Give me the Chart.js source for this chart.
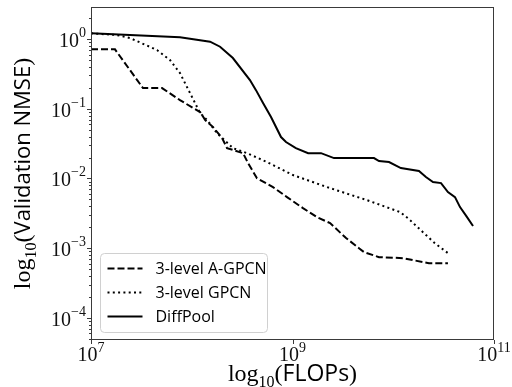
<!DOCTYPE html>
<html>
<head>
<meta charset="utf-8">
<script src="https://cdn.jsdelivr.net/npm/chart.js@4.4.1/dist/chart.umd.min.js"></script>
<style>
    html, body { margin: 0; padding: 0; background: #fff; }
</style>
</head>
<body>
<canvas id="nmseChart" width="512" height="387"></canvas>
<script>
// series values (FLOPs, validation NMSE)
const agpcnFlops = [1.0e7, 1.73e7, 3.28e7, 5.07e7, 7.64e7, 1.21e8, 1.36e8, 1.63e8, 2.00e8, 2.24e8, 3.23e8, 3.62e8, 4.44e8, 6.40e8, 8.82e8, 1.27e9, 1.75e9, 2.36e9, 3.40e9, 4.57e9, 5.13e9, 7.22e9, 1.25e10, 1.57e10, 2.26e10, 3.49e10];
const agpcnNmse = [0.711, 0.711, 0.198, 0.198, 0.133, 0.0897, 0.0689, 0.0546, 0.0380, 0.0273, 0.0231, 0.0166, 0.0101, 0.00753, 0.00541, 0.00376, 0.00279, 0.00229, 0.00140, 0.00100, 0.000879, 0.000745, 0.000721, 0.000675, 0.000611, 0.000611];

const gpcnFlops = [1.0e7, 1.81e7, 2.44e7, 4.52e7, 6.08e7, 7.64e7, 9.61e7, 1.21e8, 1.42e8, 1.78e8, 2.56e8, 3.53e8, 5.58e8, 1.01e9, 2.36e9, 5.48e9, 1.17e10, 1.43e10, 1.97e10, 2.59e10, 3.49e10];
const gpcnNmse = [1.21, 1.14, 1.034, 0.695, 0.500, 0.325, 0.168, 0.0867, 0.0689, 0.0448, 0.0273, 0.0231, 0.0172, 0.0112, 0.00728, 0.00490, 0.00330, 0.00262, 0.00170, 0.00118, 0.000851];

const diffpoolFlops = [1.0e7, 2.44e7, 7.64e7, 1.52e8, 1.91e8, 2.56e8, 3.78e8, 4.34e8, 5.10e8, 6.12e8, 7.69e8, 8.62e8, 1.08e9, 1.43e9, 1.92e9, 2.58e9, 6.44e9, 7.22e9, 9.08e9, 1.19e10, 1.80e10, 2.11e10, 2.48e10, 2.98e10, 3.49e10, 4.10e10, 4.60e10, 5.40e10, 6.19e10];
const diffpoolNmse = [1.21, 1.14, 1.06, 0.915, 0.776, 0.534, 0.258, 0.185, 0.121, 0.076, 0.0393, 0.0333, 0.0273, 0.0231, 0.0231, 0.0196, 0.0196, 0.0178, 0.0172, 0.0141, 0.0128, 0.0105, 0.00888, 0.00859, 0.00638, 0.00541, 0.00389, 0.00279, 0.00208];

const seriesNames = ['3-level A-GPCN', '3-level GPCN', 'DiffPool'];

// tick labels (base 10, exponent)
const xTickValues = [1e7, 1e9, 1e11];
const xTickExps = ['7', '9', '11'];
const yTickValues = [1, 1e-1, 1e-2, 1e-3, 1e-4];
const yTickExps = ['0', '\u22121', '\u22122', '\u22123', '\u22124'];

const SERIF = '"Liberation Serif", "DejaVu Serif", serif';
const SANS = '"Open Sans", "DejaVu Sans", sans-serif';

function toPoints(xs, ys) {
    return xs.map((x, i) => ({ x: x, y: ys[i] }));
}

function tickLine(ctx, x1, y1, x2, y2) {
    ctx.beginPath();
    ctx.moveTo(x1, y1);
    ctx.lineTo(x2, y2);
    ctx.stroke();
}

// frame + tick marks
function drawAxes(chart) {
    const ctx = chart.ctx;
    const area = chart.chartArea;
    const xs = chart.scales.x;
    const ys = chart.scales.y;

    ctx.save();
    ctx.strokeStyle = '#3a3a3a';
    ctx.lineWidth = 1;
    ctx.strokeRect(area.left + 0.5, area.top + 0.5, area.right - area.left - 1, area.bottom - area.top - 1);

    // y ticks, major every decade, minor at 2..9
    for (let e = -5; e <= 0; e++) {
        for (let k = 1; k <= 9; k++) {
            const v = k * Math.pow(10, e);
            if (v < ys.min || v > ys.max) continue;
            const py = Math.round(ys.getPixelForValue(v)) + 0.5;
            const len = k === 1 ? 4 : 2;
            tickLine(ctx, area.left - len, py, area.left, py);
        }
    }

    xTickValues.forEach(v => {
        const px = Math.round(xs.getPixelForValue(v)) + 0.5;
        tickLine(ctx, px, area.bottom, px, area.bottom + 4);
    });
    ctx.restore();
}

// "10" with a raised exponent
function drawPowerLabels(chart) {
    const ctx = chart.ctx;
    const area = chart.chartArea;
    ctx.save();
    ctx.fillStyle = '#111';
    ctx.textBaseline = 'alphabetic';
    ctx.textAlign = 'left';

    const baseFont = '20px ' + SERIF;
    const expFont = '14px ' + SERIF;

    yTickValues.forEach((v, i) => {
        const py = chart.scales.y.getPixelForValue(v);
        ctx.font = baseFont;
        const w1 = ctx.measureText('10').width;
        ctx.font = expFont;
        const w2 = ctx.measureText(yTickExps[i]).width;
        const right = area.left - 5;
        ctx.font = baseFont;
        ctx.fillText('10', right - w2 - w1, py + 8);
        ctx.font = expFont;
        ctx.fillText(yTickExps[i], right - w2, py - 2);
    });

    xTickValues.forEach((v, i) => {
        const px = chart.scales.x.getPixelForValue(v);
        ctx.font = baseFont;
        const w1 = ctx.measureText('10').width;
        ctx.font = expFont;
        const w2 = ctx.measureText(xTickExps[i]).width;
        const left = px - (w1 + w2) / 2;
        ctx.font = baseFont;
        ctx.fillText('10', left, area.bottom + 21);
        ctx.font = expFont;
        ctx.fillText(xTickExps[i], left + w1, area.bottom + 12);
    });
    ctx.restore();
}

// log_10(...) axis title, serif log with sans text
function drawLogTitle(ctx, cx, baseline, inner, size) {
    const parts = [
        { text: 'log', font: '24px ' + SERIF, dy: 0 },
        { text: '10', font: '16px ' + SERIF, dy: 6 },
        { text: '(', font: '24px ' + SERIF, dy: 0 },
        { text: inner, font: size + 'px ' + SANS, dy: 0 },
        { text: ')', font: '24px ' + SERIF, dy: 0 }
    ];
    let total = 0;
    parts.forEach(p => {
        ctx.font = p.font;
        p.w = ctx.measureText(p.text).width;
        total += p.w;
    });
    let x = cx - total / 2;
    parts.forEach(p => {
        ctx.font = p.font;
        ctx.fillText(p.text, x, baseline + p.dy);
        x += p.w;
    });
}

function drawTitles(chart) {
    const ctx = chart.ctx;
    const area = chart.chartArea;
    ctx.save();
    ctx.fillStyle = '#000';
    ctx.textBaseline = 'alphabetic';
    ctx.textAlign = 'left';
    drawLogTitle(ctx, (area.left + area.right) / 2, 381, 'FLOPs', 23);

    ctx.translate(30, (area.top + area.bottom) / 2);
    ctx.rotate(-Math.PI / 2);
    drawLogTitle(ctx, 0, 0, 'Validation NMSE', 22);
    ctx.restore();
}

// legend box in the lower left corner
function drawLegend(chart) {
    const ctx = chart.ctx;
    const area = chart.chartArea;
    const boxX = area.left + 9.5;
    const boxY = 253.5;
    const boxW = 167;
    const boxH = 79;

    ctx.save();
    ctx.beginPath();
    ctx.roundRect(boxX, boxY, boxW, boxH, 4);
    ctx.fillStyle = 'rgba(255, 255, 255, 0.8)';
    ctx.fill();
    ctx.strokeStyle = '#d0d0d0';
    ctx.lineWidth = 1;
    ctx.stroke();

    ctx.textBaseline = 'middle';
    ctx.textAlign = 'left';
    ctx.font = '16px ' + SANS;
    chart.data.datasets.forEach((ds, i) => {
        const y = boxY + 15 + i * 24;
        ctx.strokeStyle = ds.borderColor;
        ctx.lineWidth = ds.borderWidth;
        ctx.setLineDash(ds.borderDash || []);
        tickLine(ctx, boxX + 7, y, boxX + 42, y);
        ctx.setLineDash([]);
        ctx.fillStyle = '#000';
        ctx.fillText(ds.label, boxX + 55, y + 1);
    });
    ctx.restore();
}

const axisDecor = {
    id: 'axisDecor',
    afterDraw(chart) {
        drawAxes(chart);
        drawPowerLabels(chart);
        drawTitles(chart);
        drawLegend(chart);
    }
};

const ctx = document.getElementById('nmseChart').getContext('2d');
new Chart(ctx, {
    type: 'line',
    data: {
        datasets: [{
            label: seriesNames[0],
            data: toPoints(agpcnFlops, agpcnNmse),
            borderColor: '#000',
            borderWidth: 2,
            borderDash: [7, 3]
        }, {
            label: seriesNames[1],
            data: toPoints(gpcnFlops, gpcnNmse),
            borderColor: '#000',
            borderWidth: 2,
            borderDash: [2, 3.3]
        }, {
            label: seriesNames[2],
            data: toPoints(diffpoolFlops, diffpoolNmse),
            borderColor: '#000',
            borderWidth: 2
        }]
    },
    options: {
        responsive: false,
        animation: false,
        layout: {
            padding: { left: 91, top: 7, right: 18, bottom: 47 }
        },
        elements: {
            point: { radius: 0 },
            line: { tension: 0, borderCapStyle: 'butt' }
        },
        scales: {
            x: { type: 'logarithmic', min: 1e7, max: 1e11, display: false },
            y: { type: 'logarithmic', min: 4.83e-5, max: 2.88, display: false }
        },
        plugins: {
            legend: { display: false },
            tooltip: { enabled: false }
        }
    },
    plugins: [axisDecor]
});
</script>
</body>
</html>
